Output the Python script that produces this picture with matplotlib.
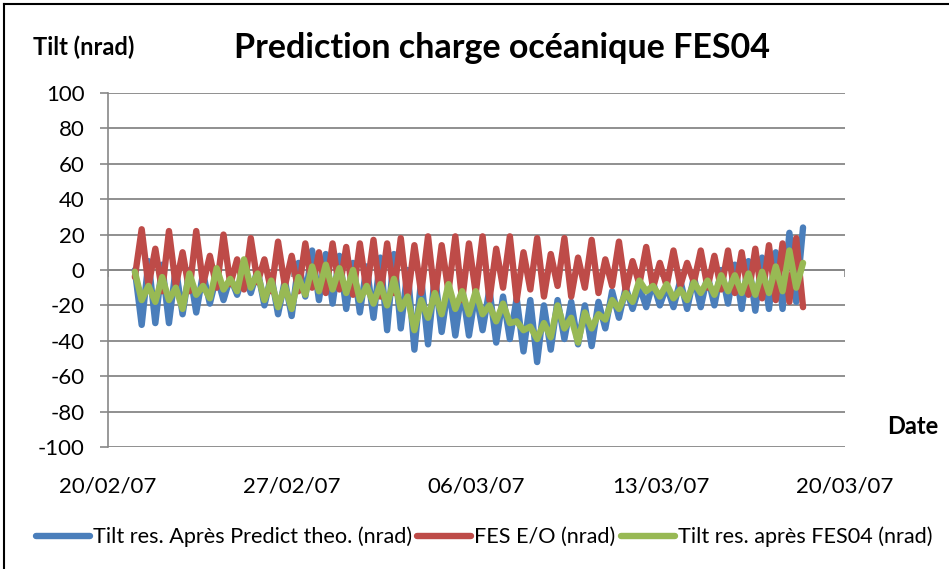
import matplotlib.pyplot as plt
import matplotlib.dates as mdates
import numpy as np
import pandas as pd

plt.rcParams['font.family'] = ['Lato', 'DejaVu Sans']
plt.rcParams['axes.unicode_minus'] = False

# one value every quarter of the semi-diurnal period (~6.21 h)
start = '2007-02-21 00:30'
step = '373min'

# Tilt res. Après Predict theo. (nrad)
tilt_theo = [
    0,
    -31, 5, -30, 3, -30, 1, -25, 0, -24, -2,
    -19, -3, -17, -4, -14, -2, -13, 0, -20, -3,
    -25, -6, -26, 4, -15, 11, -17, 9, -19, 8,
    -22, 4, -24, 2, -27, 7, -34, 9, -33, 0,
    -45, -5, -42, -3, -35, -8, -37, -10, -37, -12,
    -34, -11, -41, -15, -39, -16, -46, -17, -52, -20,
    -45, -17, -39, -18, -42, -20, -43, -18, -33, -12,
    -27, -10, -22, -9, -21, -7, -20, -9, -21, -6,
    -22, -4, -21, -3, -20, 0, -19, 3, -22, 5,
    -23, 7, -22, 10, -22, 21, -18, 24,
]

# FES E/O (nrad)
fes_eo = [
    -4,
    23, -9, 12, -12, 22, -9, 10, -12, 22, -8,
    8, -10, 20, -8, 6, -11, 18, -7, 6, -12,
    16, -9, 8, -12, 15, -10, 10, -13, 15, -11,
    13, -14, 15, -12, 17, -15, 15, -13, 18, -16,
    14, -13, 19, -16, 14, -12, 19, -17, 15, -13,
    19, -17, 12, -10, 19, -17, 10, -11, 18, -15,
    9, -9, 18, -15, 7, -10, 17, -13, 6, -9,
    16, -12, 5, -8, 13, -10, 4, -9, 11, -9,
    4, -7, 11, -10, 8, -11, 11, -13, 10, -14,
    12, -16, 14, -17, 15, -18, 18, -21,
]

# Tilt res. après FES04 (nrad)
tilt_fes04 = [
    -1,
    -17, -9, -18, -4, -17, -10, -22, -2, -14, -9,
    -16, 1, -11, -5, -12, 6, -10, -2, -17, -6,
    -21, -9, -22, -4, -14, 2, -12, 3, -11, 1,
    -13, 0, -17, -9, -19, -8, -20, -5, -22, -15,
    -34, -17, -27, -13, -25, -8, -22, -12, -25, -12,
    -25, -20, -29, -19, -30, -29, -34, -32, -39, -30,
    -38, -20, -33, -27, -41, -24, -33, -25, -28, -17,
    -22, -13, -18, -6, -12, -9, -15, -8, -16, -11,
    -17, -7, -13, -6, -14, -3, -12, -3, -13, -2,
    -14, -1, -13, 2, -12, 11, -10, 4,
]

labels = ['Tilt res. Après Predict theo. (nrad)', 'FES E/O (nrad)',
          'Tilt res. après FES04 (nrad)']
colors = ['#4a7ebb', '#be4b48', '#98b954']

tick_dates = pd.date_range('2007-02-20', '2007-03-20', freq='7D')
tick_labels = [d.strftime('%d/%m/%y') for d in tick_dates]
y_ticks = np.arange(-100, 101, 20)

times = pd.date_range(start, periods=len(fes_eo), freq=step)

fig = plt.figure(figsize=(9.49, 5.69), dpi=100)
ax = fig.add_axes([0.1138, 0.2144, 0.7766, 0.6222])

grey = '#878787'

for values, color, label in zip([tilt_theo, fes_eo, tilt_fes04], colors, labels):
    ax.plot(times, values, color=color, lw=4.6, label=label,
            solid_joinstyle='round', solid_capstyle='round')

ax.set_xlim(tick_dates[0], tick_dates[-1])
ax.set_ylim(-100, 100)

# horizontal axis crosses at 0
ax.axhline(0, color=grey, lw=1.2, zorder=0)
ax.vlines(tick_dates, -3.8, 0, color=grey, lw=1.2, zorder=0)

ax.set_xticks(tick_dates)
ax.set_xticklabels(tick_labels)
ax.tick_params(axis='x', length=0, pad=21, labelsize=16)
ax.set_yticks(y_ticks)
ax.tick_params(axis='y', length=6, width=1.2, color=grey, pad=11, labelsize=16)

ax.yaxis.grid(True, color=grey, lw=1.3)
ax.set_axisbelow(True)
for side in ['top', 'right', 'bottom']:
    ax.spines[side].set_visible(False)
ax.spines['left'].set_color(grey)
ax.spines['left'].set_linewidth(1.2)

fig.text(502 / 949, 1 - 48 / 569, 'Prediction charge océanique FES04',
         ha='center', va='center', fontsize=24.5, fontweight='bold')
fig.text(33 / 949, 1 - 47 / 569, 'Tilt (nrad)', ha='left', va='center',
         fontsize=17, fontweight='bold')
fig.text(887 / 949, 1 - 427 / 569, 'Date', ha='left', va='center',
         fontsize=17, fontweight='bold')

fig.legend(loc='center', bbox_to_anchor=(484 / 949, 1 - 537 / 569), ncol=3,
           frameon=False, fontsize=15.6, handlelength=2.5, handletextpad=0.12,
           columnspacing=0.25)

# chart frame
fig.add_artist(plt.Line2D([4 / 949, 4 / 949], [0, 1 - 4 / 569],
                          transform=fig.transFigure, color='black', lw=1.5))
fig.add_artist(plt.Line2D([4 / 949, 1], [1 - 4 / 569, 1 - 4 / 569],
                          transform=fig.transFigure, color='black', lw=1.5))

fig.savefig('out.png', dpi=100)
